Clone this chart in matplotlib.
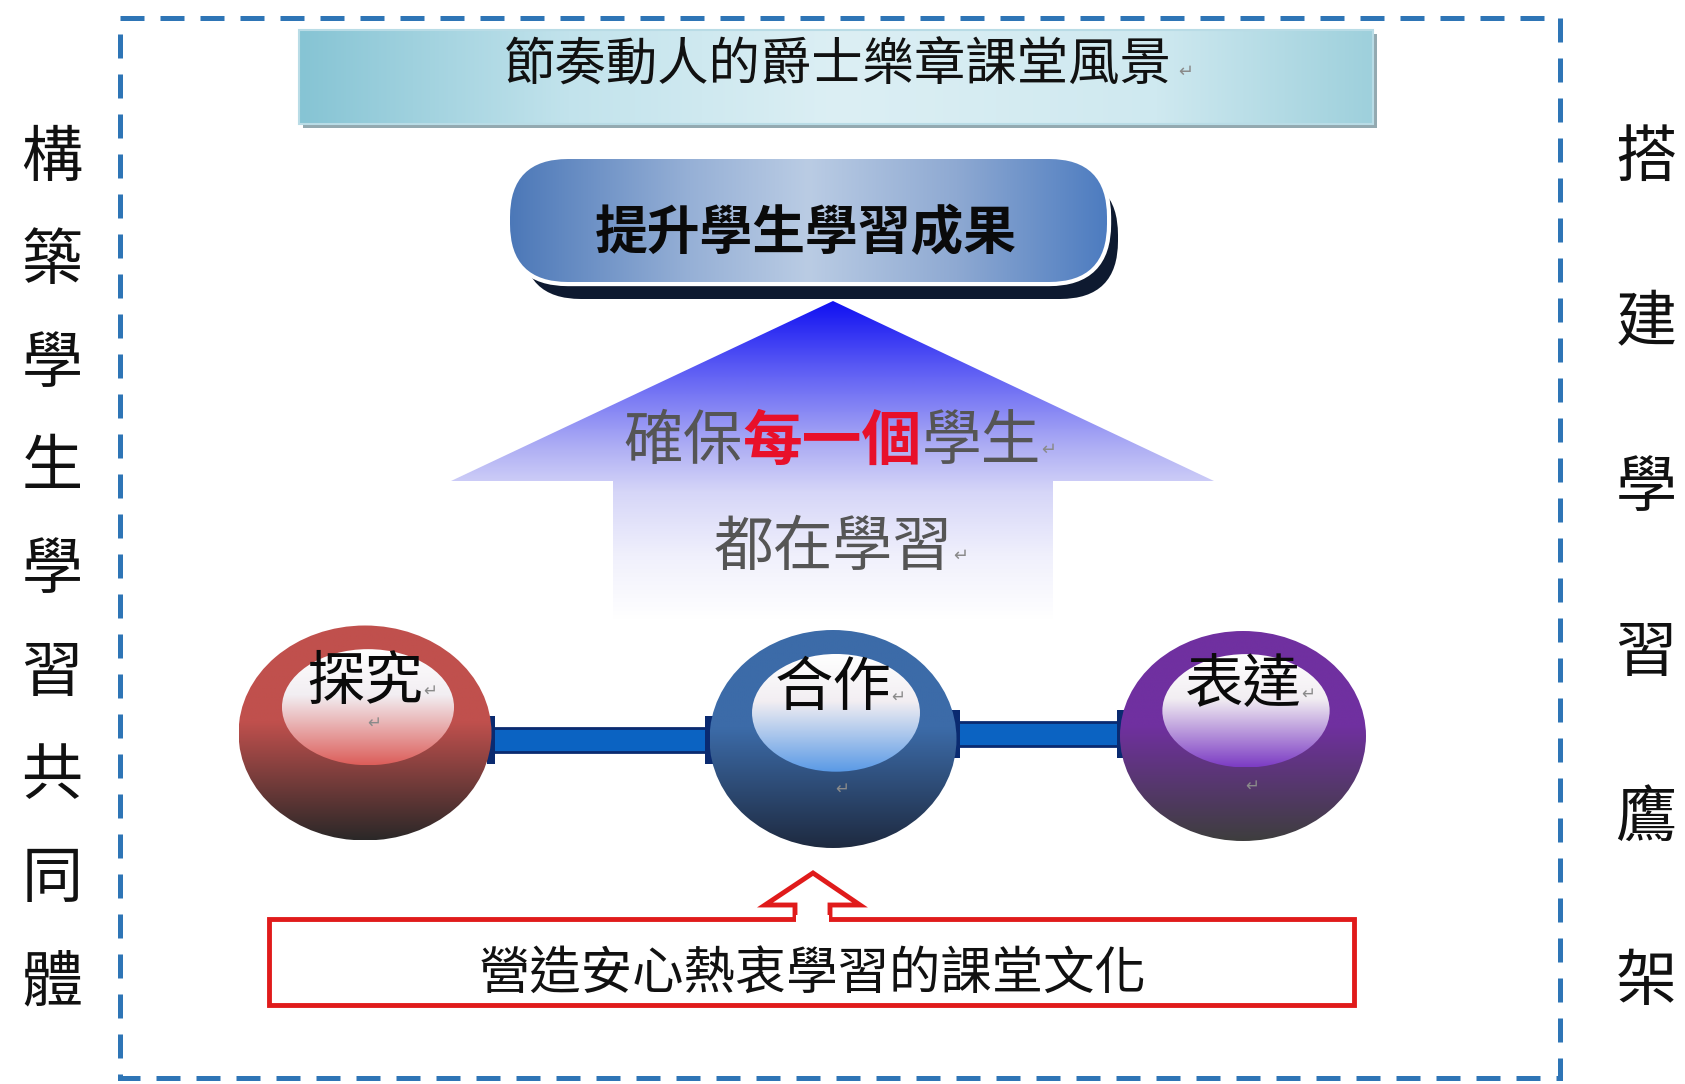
import matplotlib.pyplot as plt
import numpy as np
from matplotlib.patches import Rectangle, FancyBboxPatch, Ellipse, Polygon
from matplotlib.colors import to_rgb

plt.rcParams['font.family'] = ['Noto Sans CJK TC', 'DejaVu Sans']

# texts of the diagram
left_side = list("構築學生學習共同體")
right_side = list("搭建學習鷹架")
title_text = "節奏動人的爵士樂章課堂風景"
goal_text = "提升學生學習成果"
arrow_line1 = ["確保", "每一個", "學生"]
arrow_line2 = "都在學習"
node_labels = ["探究", "合作", "表達"]
node_top = ["#C0504D", "#3C6BA8", "#7030A0"]
node_bottom = ["#2B2828", "#1E2A40", "#3E3E3E"]
node_inner = ["#DC5E5A", "#5A9AE6", "#7C3CC4"]
base_text = "營造安心熱衷學習的課堂文化"

W, H = 1685, 1084
fig = plt.figure(figsize=(W / 100, H / 100), dpi=100)
ax = fig.add_axes([0, 0, 1, 1])
ax.set_xlim(0, W)
ax.set_ylim(H, 0)
ax.axis('off')


def lerp_cols(stops, n):
    # stops: list of (pos, color)
    pos = np.array([s[0] for s in stops])
    cols = np.array([to_rgb(s[1]) for s in stops])
    t = np.linspace(0, 1, n)
    return np.stack([np.interp(t, pos, cols[:, k]) for k in range(3)], axis=1)


def grad(patch, x0, x1, y0, y1, stops, vertical=True, z=2):
    c = lerp_cols(stops, 256)
    if vertical:
        img = c[:, None, :]
    else:
        img = c[None, :, :]
    im = ax.imshow(img, extent=(x0, x1, y1, y0), origin='upper', aspect='auto',
                   interpolation='bilinear', zorder=z)
    ax.add_patch(patch)
    patch.set_visible(False)
    im.set_clip_path(patch)
    return im


def cr(x, y, s=13):
    ax.text(x, y, "↵", fontsize=s, color="#8a8a8a", ha='left', va='center', zorder=10)


# dashed frame
ax.add_patch(Rectangle((120, 18), 1440, 1060, fill=False, ec="#2E75B6", lw=3.6,
                       ls=(0, (4.8, 3.2)), zorder=1))

# title bar
ax.add_patch(Rectangle((303, 34), 1074, 94, fc="#93A9B0", ec="none", zorder=1.5))
tb = Rectangle((299, 30), 1074, 94)
grad(tb, 299, 1373, 30, 124, [(0, "#86C4D4"), (0.25, "#C2E3EC"), (0.5, "#DCEFF4"),
                              (0.8, "#CFE9F0"), (1, "#9ED0DC")], vertical=False)
ax.add_patch(Rectangle((299, 30), 1074, 94, fill=False, ec="#B9DCE6", lw=1.5, zorder=3))
ax.text(838, 66, title_text, fontsize=37, ha='center', va='center', color="#111111", zorder=5)
cr(1178, 72)

# goal pill with shadow
ax.add_patch(FancyBboxPatch((523, 177), 595, 122, boxstyle="round,pad=0,rounding_size=58",
                            fc="#0E1A30", ec="none", zorder=1.5))
ax.add_patch(FancyBboxPatch((510, 159), 597, 123, boxstyle="round,pad=0,rounding_size=58",
                            fc="white", ec="white", lw=6, zorder=1.8))
pill = FancyBboxPatch((510, 159), 597, 123, boxstyle="round,pad=0,rounding_size=58")
grad(pill, 510, 1107, 159, 282, [(0, "#4C78B8"), (0.3, "#96B0D6"), (0.5, "#BACCE4"),
                                 (0.75, "#8EA9D2"), (1, "#4D7CC0")], vertical=False)
ax.text(806, 233, goal_text, fontsize=38, ha='center', va='center', color="#0A0A0A",
        fontweight='bold', zorder=5)

# big up arrow with fading gradient
arr = Polygon([(833, 301), (1214, 481), (1053, 481), (1053, 620), (613, 620),
               (613, 481), (451, 481)], closed=True)
grad(arr, 451, 1214, 301, 620, [(0, "#1010F2"), (0.2, "#5858F4"), (0.45, "#ACACF4"),
                                (0.6, "#D6D6F8"), (0.8, "#F0F0FC"), (1, "#FFFFFF")],
     vertical=True)

fs = 43
cw = fs * 100 / 72
x = 623
cols = ["#555555", "#E8102A", "#555555"]
wts = ['normal', 'bold', 'normal']
for seg, c, w in zip(arrow_line1, cols, wts):
    ax.text(x, 443, seg, fontsize=fs, color=c, fontweight=w, ha='left', va='center', zorder=5)
    x += cw * len(seg)
cr(x, 450)
ax.text(714, 549, arrow_line2, fontsize=fs, color="#555555", ha='left', va='center', zorder=5)
cr(714 + cw * 4, 556)

# connectors between nodes
for (xa, xb, yc) in [(491, 709, 740), (956, 1121, 734)]:
    ax.add_patch(Rectangle((xa, yc - 12), xb - xa, 24, fc="#0B63C2", ec="#0A2A70", lw=2, zorder=3))
    for xc in (xa, xb):
        ax.add_patch(Rectangle((xc - 4, yc - 24), 8, 48, fc="#0A2A70", ec="none", zorder=3.2))

# nodes
centers = [(365, 733), (833, 739), (1243, 736)]
sizes = [(253, 215), (247, 218), (246, 210)]
for i, ((cx, cy), (w, h)) in enumerate(zip(centers, sizes)):
    outer = Ellipse((cx, cy), w, h)
    grad(outer, cx - w / 2, cx + w / 2, cy - h / 2, cy + h / 2,
         [(0, node_top[i]), (0.45, node_top[i]), (1, node_bottom[i])], vertical=True, z=4)
    iw, ih = w * 0.68, h * 0.54
    icy = cy - h * 0.12
    inner = Ellipse((cx + 3, icy), iw, ih)
    grad(inner, cx + 3 - iw / 2, cx + 3 + iw / 2, icy - ih / 2, icy + ih / 2,
         [(0, "#FFFFFF"), (0.4, "#F2EEF2"), (1, node_inner[i])], vertical=True, z=4.5)
    ax.text(cx, cy - 50, node_labels[i], fontsize=42, ha='center', va='center',
            color="#0A0A0A", zorder=6)
    cr(cx + 58, cy - 42, 12)
    cr(cx + 2, cy + (-10 if i == 0 else 50), 12)

# red base arrow + box
red_arrow = Polygon([(813, 873), (860, 905), (830, 905), (830, 919), (795, 919),
                     (795, 905), (765, 905)], closed=True, fc="white", ec="#E01B1B",
                    lw=3.5, zorder=3)
ax.add_patch(red_arrow)
ax.add_patch(Rectangle((269, 919), 1085, 86, fc="white", ec="#E01B1B", lw=3.5, zorder=3))
ax.add_patch(Rectangle((796, 915), 33, 8, fc="white", ec="none", zorder=3.5))
ax.text(813, 975, base_text, fontsize=37, ha='center', va='center', color="#111111", zorder=5)

# vertical side captions
left_y = np.linspace(159, 983, len(left_side))
for ch, y in zip(left_side, left_y):
    ax.text(52, y, ch, fontsize=44, fontweight='medium', ha='center', va='center', color="#111111")
right_y = np.linspace(159, 983, len(right_side))
for ch, y in zip(right_side, right_y):
    ax.text(1646, y, ch, fontsize=44, fontweight='medium', ha='center', va='center', color="#111111")

fig.savefig("out.png", dpi=100)
